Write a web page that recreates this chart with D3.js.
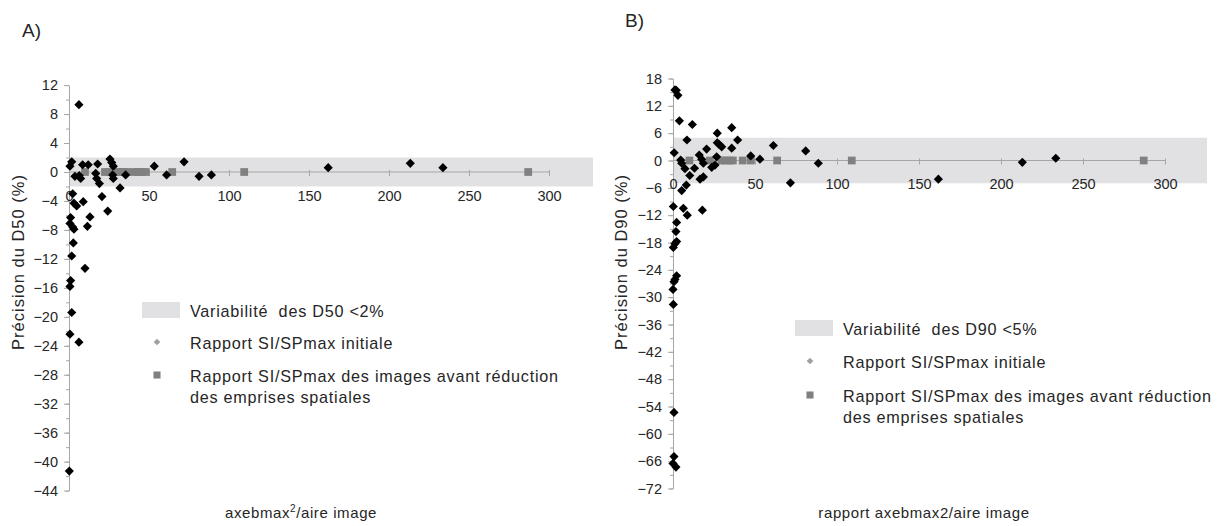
<!DOCTYPE html>
<html><head><meta charset="utf-8">
<script src="https://cdn.jsdelivr.net/npm/d3@7"></script>
<style>
body{margin:0;background:#fff;}
svg text{font-family:"Liberation Sans",Arial,sans-serif;fill:#262626;}
</style></head>
<body><svg id="c" width="1223" height="526"></svg>
<script>
// ---------- data ----------
const aInitX = [6.2,1.7,0.6,3.7,7.3,8.5,12,16.7,17.9,17.3,19,20.6,25.6,26.7,27.7,27.3,27.7,31.9,35.4,53.3,61,71.9,81.3,89,2.3,3.1,4.8,8.9,24.2,13.1,11.5,1.0,0.6,2.3,3.1,2.7,1.7,10,1.0,0.6,1.7,0.6,6.2,0.2,162,213.3,233.7,6.4];
const aInitY = [9.3,1.4,0.8,-0.6,-0.9,1.0,1.0,-0.2,1.1,-0.9,-1.6,-3.4,1.8,1.3,0.8,-0.4,-0.9,-2.2,-0.4,0.8,-0.4,1.4,-0.6,-0.4,-3.0,-4.3,-4.7,-4.1,-5.4,-6.2,-7.5,-6.3,-7.1,-7.6,-7.9,-9.8,-11.6,-13.3,-15.0,-15.8,-19.4,-22.4,-23.5,-41.3,0.6,1.2,0.6,-0.5];
const aSqX = [10,22.5,25,30.5,32.5,34.5,36.5,41,43,45.5,48,64.5,109.5,287];
const aSqY = [0,0,0,0,0,0,0,0,0,0,0,0,0,0];

const bInitX = [1.2,2.0,3.0,3.9,11.8,0.7,8.5,4.7,5.3,7.3,10.2,13.1,5.3,8.1,16,17.5,18.5,20.5,16.5,18.5,23.6,25.6,27,27,28.2,29.7,26.6,35.8,35.8,39.4,47.4,53,61.2,71.6,80.9,88.6,0.2,6.3,8.7,2.2,1.8,2.2,1.2,0.2,17.9,2.2,1.2,0.6,0,0.2,0.6,0.6,0,1.8,161.8,213,233.4];
const bInitY = [15.5,15.4,14.3,8.7,7.9,1.7,4.5,0.1,-0.6,-1.8,-3.3,-1.7,-6.6,-5.4,1.2,0.25,-0.6,2.5,-4.1,-3.6,-1.5,-1.0,6.0,3.9,3.5,3.0,0.8,7.2,2.7,4.5,1.0,0.3,3.3,-4.9,2.1,-0.6,-10.1,-10.5,-12,-13.6,-15.6,-17.8,-18.3,-19.1,-10.9,-25.3,-26.1,-26.6,-28.3,-31.6,-55.3,-65,-66.5,-67.3,-4.1,-0.4,0.5];
const bSqX = [10,22.5,29.5,32,34.5,36.5,42.5,47.5,63.5,109,287];
const bSqY = [0,0,0,0,0,0,0,0,0,0,0];

const xTicks = [0,50,100,150,200,250,300];
const aYTicks = d3.range(12,-45,-4);
const bYTicks = d3.range(18,-73,-6);
const aBand = [-2,2];
const bBand = [-5,5];

const aLegend = ["Variabilité  des D50 <2%","Rapport SI/SPmax initiale","Rapport SI/SPmax des images avant réduction","des emprises spatiales"];
const bLegend = ["Variabilité  des D90 <5%","Rapport SI/SPmax initiale","Rapport SI/SPmax des images avant réduction","des emprises spatiales"];

// ---------- drawing ----------
const svg = d3.select("#c");
const AXC = "#a6a6a6", BAND = "#e1e1e3", SQC = "#808080";

const diamond = d3.symbol().type(d3.symbolSquare).size(42);
const square = d3.symbol().type(d3.symbolSquare).size(60);

function panel(cfg){
  const g = svg.append("g");
  const x = d3.scaleLinear().domain(cfg.xDom).range(cfg.xRange);
  const y = d3.scaleLinear().domain(cfg.yDom).range(cfg.yRange);
  g.append("rect").attr("x",x(0)).attr("width",x(cfg.xDom[1])-x(0))
    .attr("y",y(cfg.band[1])).attr("height",y(cfg.band[0])-y(cfg.band[1])).attr("fill",BAND);
  const minor = d3.range(cfg.yDom[1], cfg.yDom[0]-0.01, -cfg.minor);
  const ym = g.append("g").attr("transform",`translate(${x(0)},0)`)
    .call(d3.axisLeft(y).tickValues(minor).tickSize(3).tickFormat(""));
  ym.select(".domain").remove();
  ym.selectAll("line").attr("stroke",AXC);
  const ya = g.append("g").attr("transform",`translate(${x(0)},0)`)
    .call(d3.axisLeft(y).tickValues(cfg.yTicks).tickSize(5).tickPadding(6).tickSizeOuter(0));
  ya.select(".domain").attr("stroke",AXC);
  ya.selectAll("line").attr("stroke",AXC);
  ya.selectAll("text").attr("font-size",14.5).style("fill","#262626");
  const xa = g.append("g").attr("transform",`translate(0,${y(0)})`)
    .call(d3.axisBottom(x).tickValues(xTicks).tickSize(4).tickPadding(cfg.xPad).tickSizeOuter(0));
  xa.select(".domain").attr("d",`M${x(0)},0H${x(300)}`).attr("stroke",AXC);
  xa.selectAll("line").attr("stroke",AXC).attr("y1",-2);
  xa.selectAll("text").attr("font-size",14.5).style("fill","#262626");
  g.append("g").selectAll("path").data(cfg.sqX.map((v,i)=>[v,cfg.sqY[i]])).join("path")
    .attr("d",square).attr("fill",SQC)
    .attr("transform",d=>`translate(${x(d[0])},${y(d[1])})`);
  g.append("g").selectAll("path").data(cfg.dX.map((v,i)=>[v,cfg.dY[i]])).join("path")
    .attr("d",diamond).attr("fill","#000")
    .attr("transform",d=>`translate(${x(d[0])},${y(d[1])}) rotate(45)`);
  svg.append("text").attr("x",cfg.lab[0]).attr("y",cfg.lab[1]).attr("font-size",19).text(cfg.labText);
  svg.append("text").attr("transform",`translate(${cfg.yt[0]},${cfg.yt[1]}) rotate(-90)`)
    .attr("text-anchor","middle").attr("font-size",16.5).attr("letter-spacing",1).text(cfg.yTitle);
  const xt = svg.append("text").attr("x",cfg.xt[0]).attr("y",cfg.xt[1]).attr("text-anchor","middle")
    .attr("font-size",15).attr("letter-spacing",0.6);
  cfg.xTitle(xt);
  const L = cfg.leg;
  svg.append("rect").attr("x",L.x-48).attr("y",L.y[0]-9).attr("width",38).attr("height",16).attr("fill",BAND);
  svg.append("path").attr("d",d3.symbol().type(d3.symbolSquare).size(22)).attr("fill","#a0a0a0")
    .attr("transform",`translate(${L.x-33},${L.y[1]-1}) rotate(45)`);
  svg.append("path").attr("d",d3.symbol().type(d3.symbolSquare).size(50)).attr("fill",SQC)
    .attr("transform",`translate(${L.x-33},${L.y[2]-1})`);
  cfg.legText.forEach((t,i)=>{
    svg.append("text").attr("x",L.x).attr("y",L.y[i]+5.5).attr("font-size",16.2).attr("letter-spacing",0.75)
      .style("white-space","pre").text(t);
  });
}

panel({
  xDom:[0,327.5], xRange:[69,593], yDom:[-44,12], yRange:[490.6,85.1],
  band:aBand, minor:2, yTicks:aYTicks, xPad:15,
  sqX:aSqX, sqY:aSqY, dX:aInitX, dY:aInitY,
  lab:[22,37], labText:"A)", yt:[24,262], yTitle:"Précision du D50 (%)",
  xt:[301,518], xTitle:t=>{t.append("tspan").text("axebmax");t.append("tspan").attr("font-size",10).attr("dy",-6).text("2");t.append("tspan").attr("dy",6).text("/aire image");},
  leg:{x:190,y:[311,343,376,397]}, legText:aLegend
});
panel({
  xDom:[0,325.6], xRange:[673,1207], yDom:[-72,18], yRange:[488.5,78.5],
  band:bBand, minor:3, yTicks:bYTicks, xPad:14,
  sqX:bSqX, sqY:bSqY, dX:bInitX, dY:bInitY,
  lab:[625,27], labText:"B)", yt:[627,262], yTitle:"Précision du D90 (%)",
  xt:[924,518], xTitle:t=>t.text("rapport axebmax2/aire image"),
  leg:{x:843,y:[329,362,396,417]}, legText:bLegend
});
</script></body></html>
